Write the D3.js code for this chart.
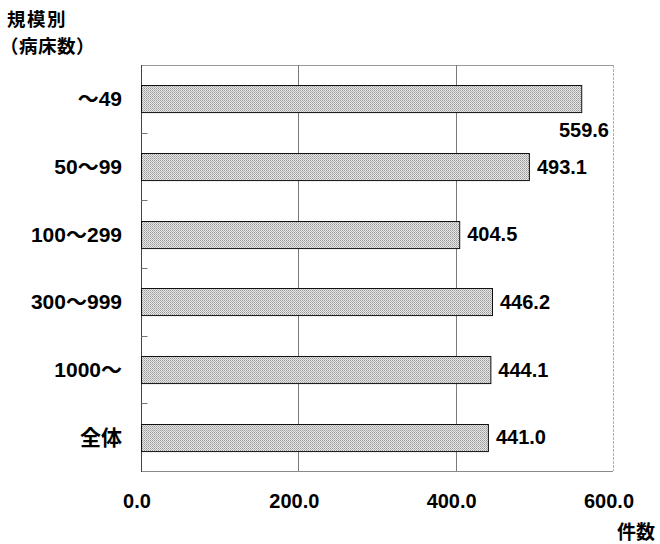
<!DOCTYPE html>
<html>
<head>
<meta charset="utf-8">
<script src="https://cdn.jsdelivr.net/npm/d3@7"></script>
<style>
  html, body { margin: 0; padding: 0; background: #fff; }
  svg { display: block; }
  text { font-family: "Liberation Sans", Arial, "Noto Sans CJK JP", sans-serif; font-weight: bold; fill: #000; }
  .jp { font-family: "Noto Sans CJK JP", sans-serif; }
</style>
</head>
<body>
<svg id="chart" width="660" height="544"></svg>
<script>
// Hospital size groups (beds) and counts per group
const categories = ["～49", "50～99", "100～299", "300～999", "1000～", "全体"];
const values = [559.6, 493.1, 404.5, 446.2, 444.1, 441.0];
const xTicks = [0, 200, 400, 600];
const xTickLabels = ["0.0", "200.0", "400.0", "600.0"];

const svg = d3.select("#chart");
const plot = { left: 141, right: 613, top: 65, bottom: 471 };

const x = d3.scaleLinear().domain([0, 600]).range([plot.left, plot.right]);
const y = d3.scaleBand().domain(categories).range([plot.top, plot.bottom]).paddingInner(0.6).paddingOuter(0.3);
const band = d3.scaleBand().domain(categories).range([plot.top, plot.bottom]);

// Stippled fill for bars
const defs = svg.append("defs");
const pat = defs.append("pattern").attr("id", "stipple")
  .attr("width", 2).attr("height", 2).attr("patternUnits", "userSpaceOnUse");
pat.append("rect").attr("width", 2).attr("height", 2).attr("fill", "#e6e6e6");
pat.append("rect").attr("x", 0).attr("y", 0).attr("width", 1).attr("height", 1).attr("fill", "#9a9a9a");
pat.append("rect").attr("x", 1).attr("y", 1).attr("width", 1).attr("height", 1).attr("fill", "#b4b4b4");

// Frame: top / right / bottom in grey
svg.append("line").attr("x1", plot.left).attr("x2", plot.right).attr("y1", plot.top + 0.5).attr("y2", plot.top + 0.5)
  .attr("stroke", "#9a9a9a").attr("stroke-width", 1);
svg.append("line").attr("x1", plot.right + 0.5).attr("x2", plot.right + 0.5).attr("y1", plot.top).attr("y2", plot.bottom)
  .attr("stroke", "#b0b0b0").attr("stroke-width", 1).attr("stroke-dasharray", "3,1");
svg.append("line").attr("x1", plot.left).attr("x2", plot.right).attr("y1", plot.bottom + 0.5).attr("y2", plot.bottom + 0.5)
  .attr("stroke", "#8a8a8a").attr("stroke-width", 1);

// Vertical gridlines
svg.append("g").selectAll("line").data(xTicks.filter(d => d > 0 && d < 600)).join("line")
  .attr("x1", d => Math.round(x(d)) + 0.5).attr("x2", d => Math.round(x(d)) + 0.5)
  .attr("y1", plot.top).attr("y2", plot.bottom)
  .attr("stroke", "#7a7a7a").attr("stroke-width", 1);

// Category axis with short inward ticks at band boundaries
const yAxis = svg.append("g").attr("transform", `translate(${plot.left + 0.5},0)`);
yAxis.append("line").attr("x1", 0).attr("x2", 0).attr("y1", plot.top).attr("y2", plot.bottom + 1)
  .attr("stroke", "#444").attr("stroke-width", 1);
yAxis.selectAll("line.tick").data(categories.slice(1)).join("line").attr("class", "tick")
  .attr("x1", 0).attr("x2", 6)
  .attr("y1", d => Math.round(band(d)) + 0.5).attr("y2", d => Math.round(band(d)) + 0.5)
  .attr("stroke", "#777").attr("stroke-width", 1);

// Bars
svg.append("g").selectAll("rect").data(values).join("rect")
  .attr("x", plot.left + 0.5)
  .attr("y", (d, i) => Math.round(y(categories[i])) + 0.5)
  .attr("width", d => x(d) - plot.left)
  .attr("height", y.bandwidth())
  .attr("fill", "url(#stipple)")
  .attr("stroke", "#111").attr("stroke-width", 1);

// Category labels
svg.append("g").selectAll("text").data(categories).join("text")
  .attr("x", 122)
  .attr("y", d => band(d) + band.bandwidth() / 2)
  .attr("dy", "0.36em")
  .attr("text-anchor", "end")
  .attr("font-size", 21)
  .text(d => d);

// Value labels: beside the bar end, or below it when it would run past the frame
const fmt = d3.format(".1f");
svg.append("g").selectAll("text").data(values).join("text")
  .attr("font-size", 20)
  .each(function(d, i) {
    const t = d3.select(this).text(fmt(d));
    const cy = band(categories[i]) + band.bandwidth() / 2;
    const w = this.getComputedTextLength();
    if (x(d) + 9 + w > plot.right) {
      t.attr("x", plot.right - 4).attr("y", cy + 31).attr("text-anchor", "end").attr("dy", "0.36em");
    } else {
      t.attr("x", x(d) + 8).attr("y", cy).attr("text-anchor", "start").attr("dy", "0.36em");
    }
  });

// X tick labels
svg.append("g").selectAll("text").data(xTicks).join("text")
  .attr("x", d => x(d) - 4)
  .attr("y", 501)
  .attr("dy", "0.36em")
  .attr("text-anchor", "middle")
  .attr("font-size", 20)
  .text((d, i) => xTickLabels[i]);

// Axis titles
svg.append("text").attr("class", "jp").attr("x", 7).attr("y", 26).attr("font-size", 18.5)
  .attr("letter-spacing", 1.5).text("規模別");
svg.append("text").attr("class", "jp").attr("x", 0).attr("y", 53).attr("font-size", 18.5)
  .attr("letter-spacing", 0.5).text("（病床数）");
svg.append("text").attr("class", "jp").attr("x", 655).attr("y", 539).attr("text-anchor", "end").attr("font-size", 19).text("件数");
</script>
</body>
</html>
